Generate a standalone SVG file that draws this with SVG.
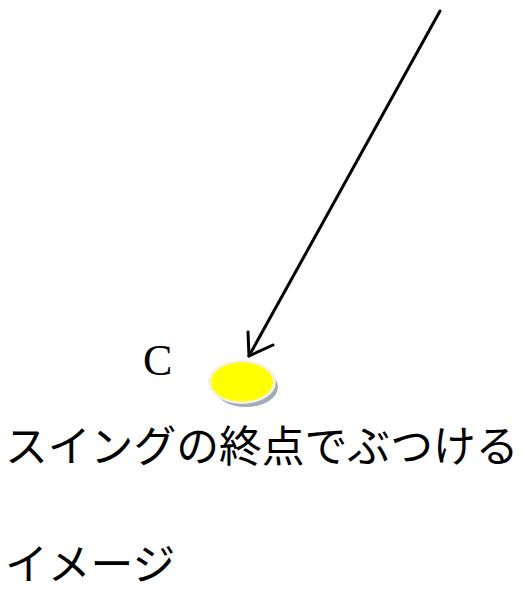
<svg xmlns="http://www.w3.org/2000/svg" width="524" height="605" viewBox="0 0 524 605">
<style>
.jp{font-family:"Noto Sans CJK JP","Noto Sans CJK SC",sans-serif;font-size:42.8px;fill:#000}
.lbl{font-family:"Liberation Serif",serif;font-size:44px;fill:#000}
.conn{stroke:#000;stroke-width:3;fill:none;stroke-linecap:round;stroke-linejoin:round}
</style>
<rect width="524" height="605" fill="#fff"/>
<g id="ball">
<ellipse cx="246" cy="387" rx="32" ry="20" fill="#a3abbb"/>
<ellipse cx="242" cy="382" rx="34" ry="22" fill="#f4f1dc"/>
<ellipse cx="242" cy="382" rx="31" ry="19.5" fill="#ffff00"/>
</g>
<g id="label-c">
<text class="lbl" x="143" y="375">C</text>
</g>
<g id="connectors">
<line class="conn" x1="440" y1="11" x2="249" y2="356"/>
<polyline class="conn" points="248,332 249,356 273,345"/>
</g>
<g id="caption">
<text class="jp" x="5" y="462">スイングの終点でぶつける</text>
<text class="jp" x="5" y="580">イメージ</text>
</g>
</svg>
